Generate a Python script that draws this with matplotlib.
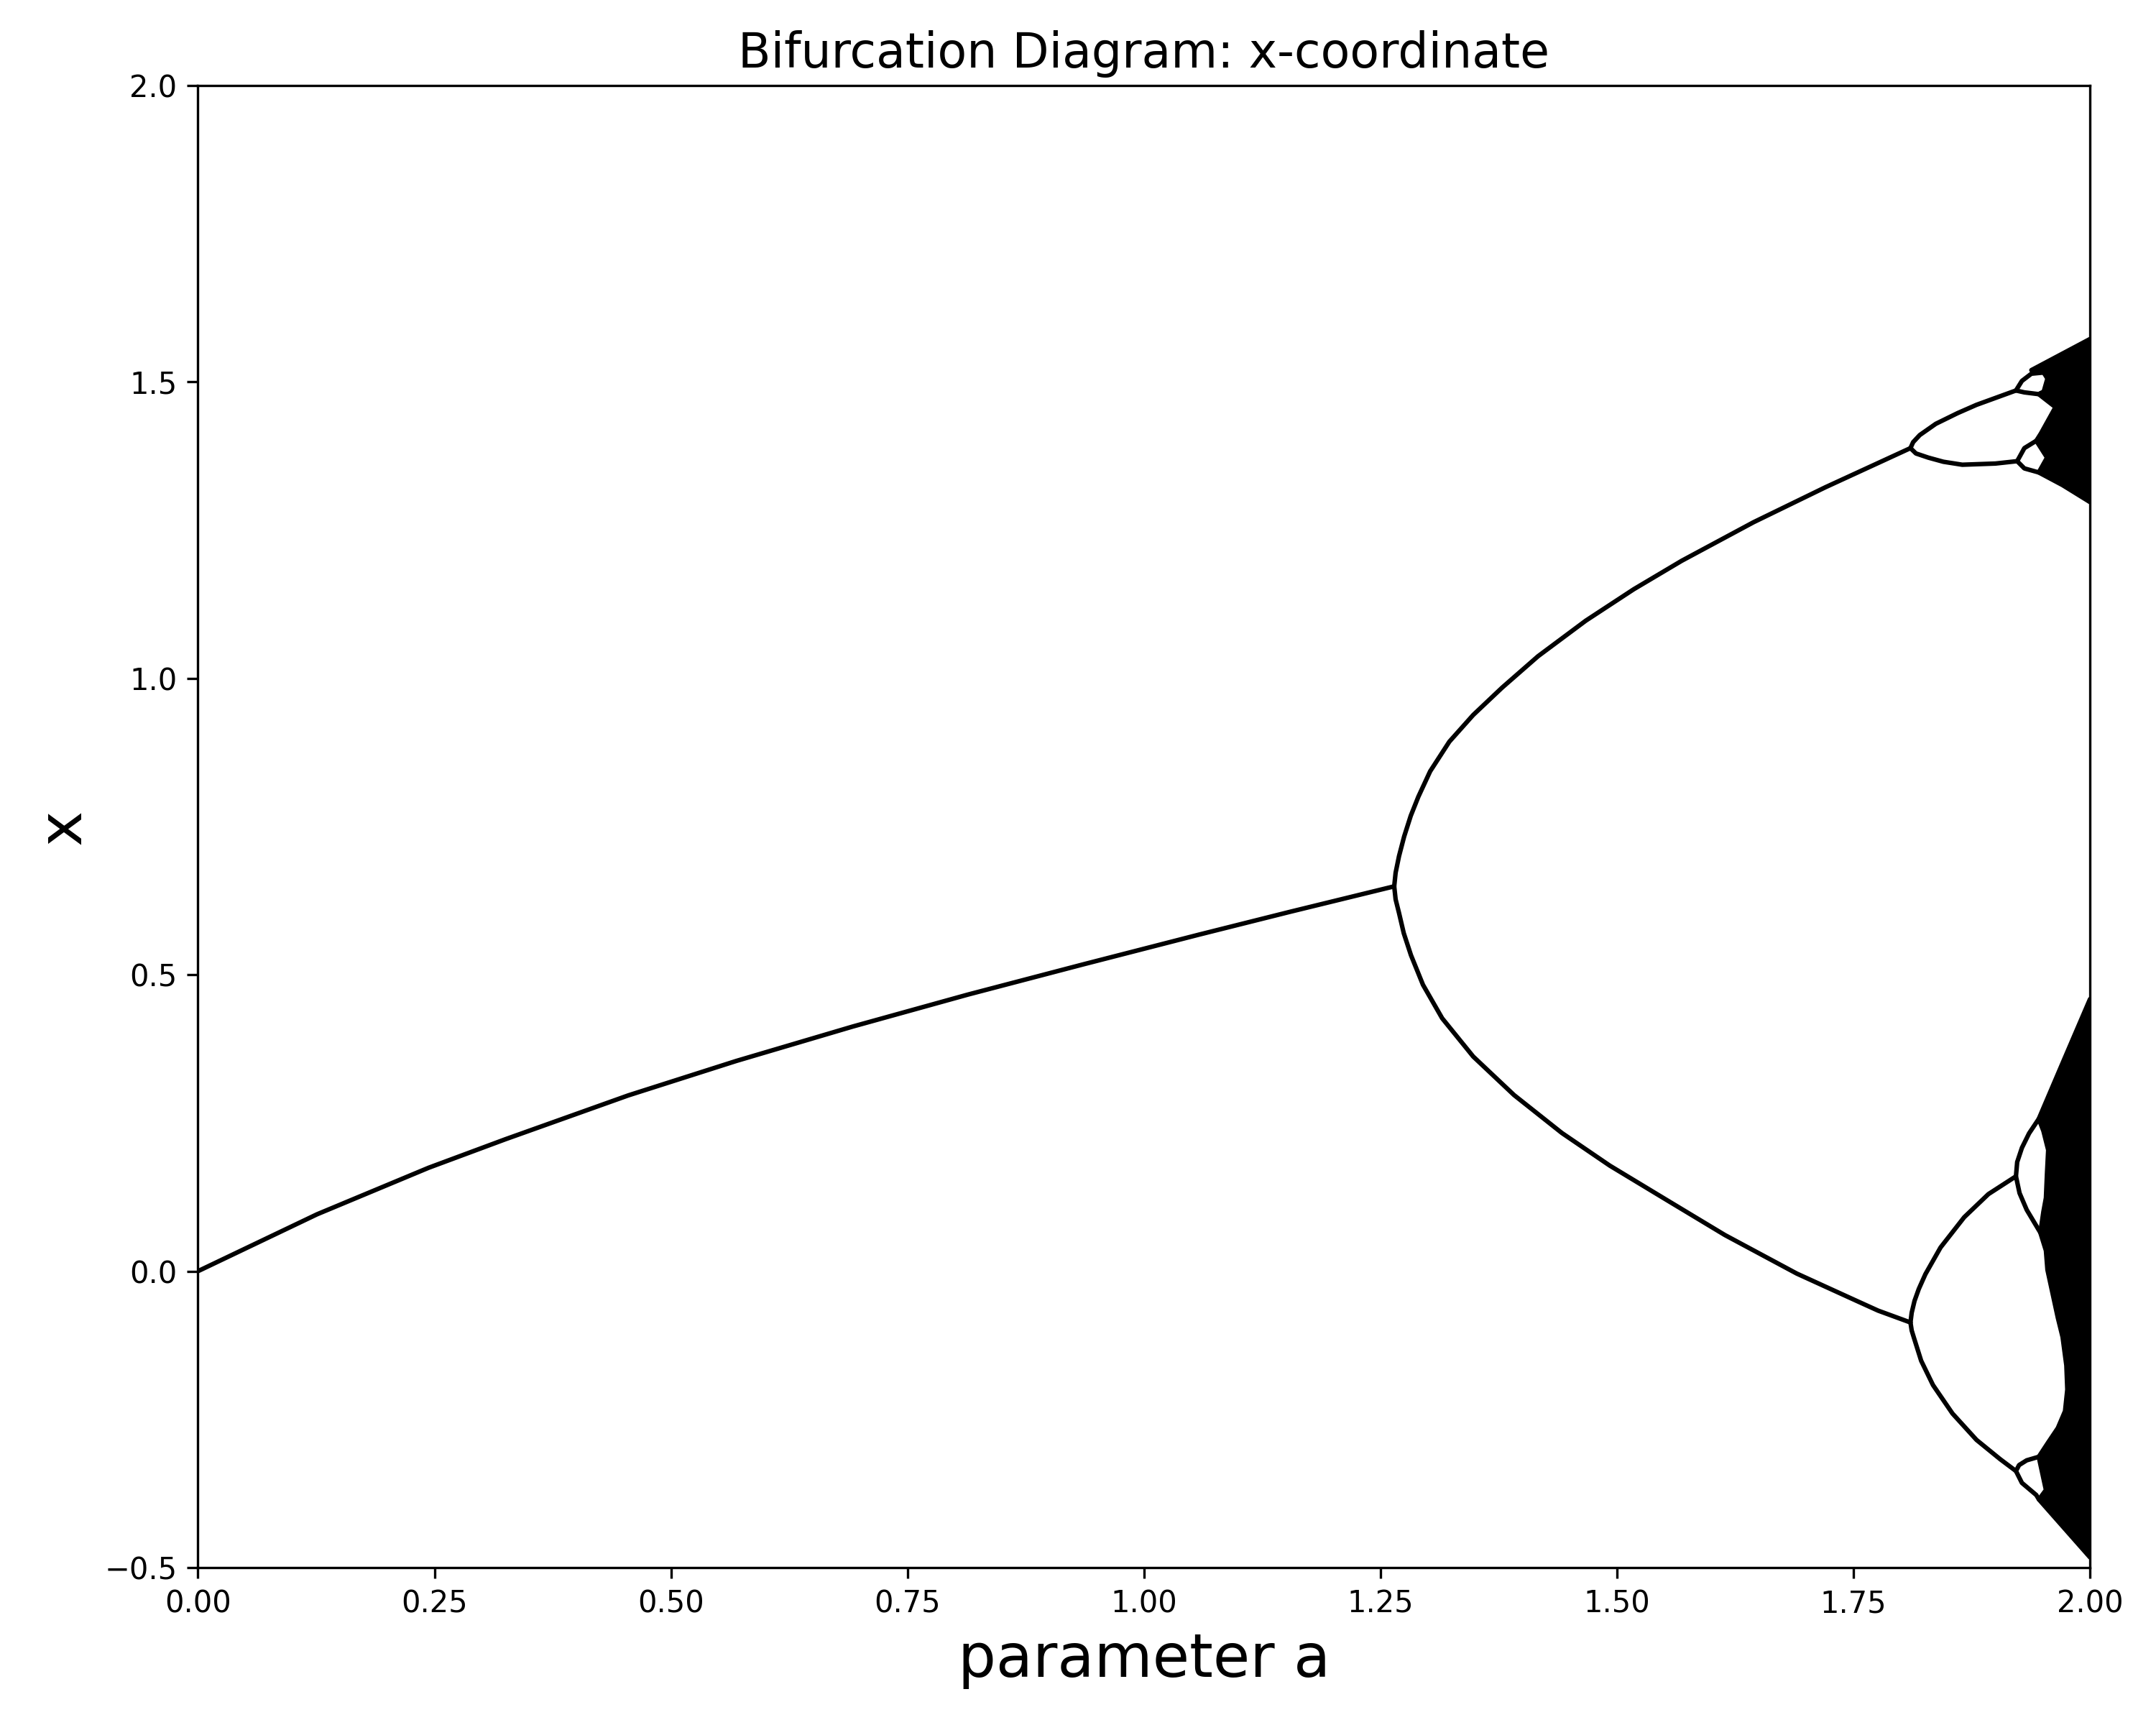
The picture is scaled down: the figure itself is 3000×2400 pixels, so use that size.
import matplotlib.pyplot as plt

# values (a, x)
# period-1 fixed point
p1_a = [0.0, 0.126, 0.244, 0.325, 0.455, 0.569, 0.692, 0.814, 0.936, 1.058, 1.155, 1.2645]
p1_x = [0.0, 0.096, 0.1745, 0.2225, 0.2965, 0.3545, 0.4125, 0.4665, 0.5175, 0.5675, 0.6063, 0.649]

# period-2 branches
p2u_a = [1.2645, 1.266, 1.2696, 1.275, 1.282, 1.290, 1.3025, 1.3228, 1.348, 1.3785, 1.4165,
         1.467, 1.5177, 1.5684, 1.6443, 1.7203, 1.8102]
p2u_x = [0.649, 0.672, 0.700, 0.733, 0.768, 0.800, 0.843, 0.893, 0.938, 0.984, 1.037,
         1.097, 1.150, 1.198, 1.263, 1.322, 1.388]
p2l_a = [1.2645, 1.266, 1.2696, 1.2746, 1.2822, 1.2949, 1.3152, 1.348, 1.3912, 1.4418, 1.4924,
         1.5557, 1.614, 1.690, 1.7532, 1.776, 1.8102]
p2l_x = [0.649, 0.627, 0.604, 0.570, 0.533, 0.483, 0.4265, 0.362, 0.297, 0.233, 0.178,
         0.117, 0.061, -0.004, -0.050, -0.0665, -0.0865]

# period-4 branches
p4a_a = [1.8102, 1.8115, 1.8145, 1.819, 1.826, 1.842, 1.867, 1.8926, 1.9217]
p4a_x = [-0.0865, -0.070, -0.050, -0.030, -0.005, 0.040, 0.091, 0.130, 0.160]
p4b_a = [1.8102, 1.8115, 1.814, 1.8215, 1.834, 1.8546, 1.880, 1.905, 1.9217]
p4b_x = [-0.0865, -0.100, -0.113, -0.151, -0.192, -0.240, -0.2845, -0.317, -0.337]
p4c_a = [1.8102, 1.813, 1.820, 1.837, 1.860, 1.880, 1.9217]
p4c_x = [1.388, 1.398, 1.410, 1.429, 1.447, 1.461, 1.4852]
p4d_a = [1.8102, 1.816, 1.829, 1.845, 1.865, 1.900, 1.923]
p4d_x = [1.388, 1.379, 1.372, 1.365, 1.360, 1.362, 1.366]

# period-8 loops
loop1_a = [1.951, 1.938, 1.928, 1.9217, 1.9306, 1.9458, 1.951]
loop1_x = [1.5155, 1.5135, 1.5013, 1.4852, 1.482, 1.479, 1.483]
loop2_a = [1.9432, 1.9306, 1.923, 1.9306, 1.9458]
loop2_x = [1.4004, 1.388, 1.366, 1.3538, 1.347]
loop3_a = [1.9458, 1.9356, 1.928, 1.923, 1.9217, 1.9255, 1.9331, 1.9475]
loop3_x = [0.2568, 0.2325, 0.208, 0.184, 0.160, 0.1317, 0.1034, 0.065]
loop4_a = [1.9458, 1.933, 1.925, 1.9217, 1.928, 1.9432, 1.946]
loop4_x = [-0.313, -0.319, -0.327, -0.337, -0.357, -0.3775, -0.385]

# chaotic bands (outline)
chu_a = [1.938, 2.0, 2.0, 1.971, 1.9458, 1.9546, 1.9432, 1.948, 1.9635, 1.9458, 1.951, 1.955, 1.951]
chu_x = [1.5195, 1.572, 1.297, 1.3256, 1.347, 1.372, 1.4004, 1.4125, 1.457, 1.479, 1.483, 1.5053, 1.5155]
chl_a = [1.9458, 1.9685, 1.9837, 2.0, 2.0, 1.946, 1.9534, 1.9458, 1.9558, 1.966, 1.9736, 1.976,
         1.975, 1.971, 1.966, 1.955, 1.9534, 1.9475, 1.9507, 1.9534, 1.9545, 1.9558, 1.9507]
chl_x = [0.2568, 0.3417, 0.3983, 0.4589, -0.4826, -0.385, -0.369, -0.313, -0.2887, -0.2645, -0.236, -0.1996,
         -0.159, -0.111, -0.0786, 0.0024, 0.0347, 0.065, 0.100, 0.1236, 0.164, 0.2044, 0.2367]

fig = plt.figure(figsize=(10, 8), dpi=300)
ax = fig.add_axes([0.0918, 0.0912, 0.8776, 0.8594])

lw = 1.5
for a, x in [(p1_a, p1_x), (p2u_a, p2u_x), (p2l_a, p2l_x), (p4a_a, p4a_x), (p4b_a, p4b_x),
             (p4c_a, p4c_x), (p4d_a, p4d_x), (loop1_a, loop1_x), (loop2_a, loop2_x),
             (loop3_a, loop3_x), (loop4_a, loop4_x)]:
    ax.plot(a, x, color='black', lw=lw, solid_capstyle='round', solid_joinstyle='round')

ax.fill(chu_a, chu_x, facecolor='black', edgecolor='black', lw=lw, joinstyle='round')
ax.fill(chl_a, chl_x, facecolor='black', edgecolor='black', lw=lw, joinstyle='round')

ax.set_xlim(0, 2)
ax.set_ylim(-0.5, 2)
ax.set_title('Bifurcation Diagram: x-coordinate', fontsize=16)
ax.set_xlabel('parameter a', fontsize=20)
ax.set_ylabel('x', fontsize=20)

fig.savefig('out.png', dpi=300)
